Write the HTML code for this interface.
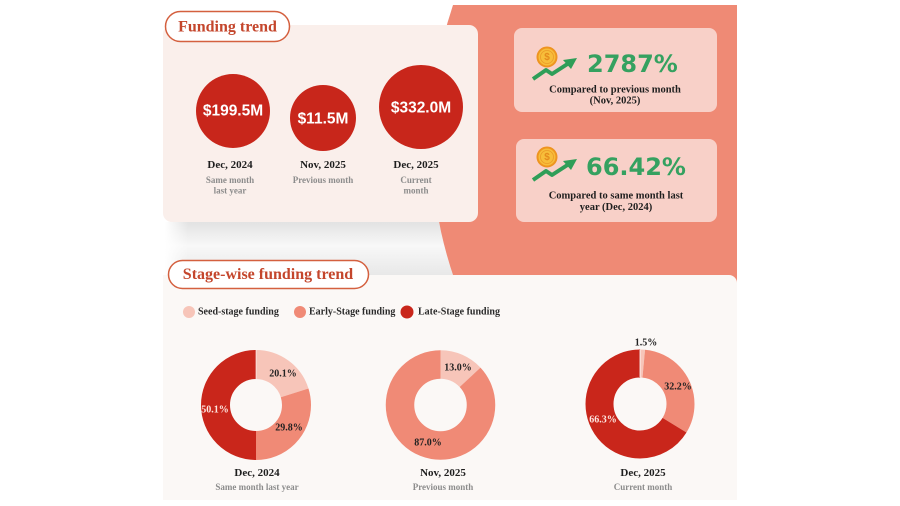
<!DOCTYPE html>
<html><head><meta charset="utf-8"><style>
html,body{margin:0;padding:0;background:#fff;width:900px;height:506px;overflow:hidden;}
svg{display:block;}
.sf{font-family:"Liberation Serif",serif;font-weight:bold;}
.ss{font-family:"Liberation Sans",sans-serif;font-weight:bold;}
.dv{font-family:"DejaVu Sans","Liberation Sans",sans-serif;font-weight:bold;}
</style></head><body>
<svg width="900" height="506" viewBox="0 0 900 506" xmlns="http://www.w3.org/2000/svg">
<defs>
<linearGradient id="sh" x1="0" y1="0" x2="0" y2="1">
<stop offset="0" stop-color="#e2e2e2"/>
<stop offset="0.45" stop-color="#f8f8f8"/>
<stop offset="1" stop-color="#e8e8e8"/>
</linearGradient>
<linearGradient id="shx" x1="0" y1="0" x2="1" y2="0">
<stop offset="0" stop-color="#fff" stop-opacity="1"/>
<stop offset="0.08" stop-color="#fff" stop-opacity="0"/>
<stop offset="1" stop-color="#fff" stop-opacity="0"/>
</linearGradient>
</defs>
<rect width="900" height="506" fill="#fff"/>
<rect x="165" y="222" width="290" height="53" fill="url(#sh)"/>
<rect x="165" y="222" width="290" height="53" fill="url(#shx)"/>
<path d="M453,5 L737,5 L737,305 L464.3,305 A426,426 0 0 1 453,5 Z" fill="#ef8a75"/>
<rect x="163" y="25" width="315" height="197" rx="9" fill="#faefeb"/>
<rect x="165.5" y="11.5" width="124" height="30" rx="15" fill="#fff" stroke="#d4603f" stroke-width="1.5"/>
<text x="227.5" y="27" class="sf" font-size="16" fill="#c4462c" text-anchor="middle" dominant-baseline="central">Funding trend</text>
<circle cx="233" cy="111" r="37" fill="#c8261b"/>
<circle cx="323" cy="118" r="33" fill="#c8261b"/>
<circle cx="421" cy="107" r="42" fill="#c8261b"/>
<text x="233" y="111" class="ss" font-size="15.5" fill="#fff" text-anchor="middle" dominant-baseline="central">$199.5M</text>
<text x="323" y="119" class="ss" font-size="15.5" fill="#fff" text-anchor="middle" dominant-baseline="central">$11.5M</text>
<text x="421" y="108" class="ss" font-size="15.5" fill="#fff" text-anchor="middle" dominant-baseline="central">$332.0M</text>
<g class="sf" font-size="11" fill="#1e1e1e" text-anchor="middle" dominant-baseline="central">
<text x="230" y="165">Dec, 2024</text>
<text x="323" y="165">Nov, 2025</text>
<text x="416" y="165">Dec, 2025</text>
</g>
<g class="sf" font-size="9" fill="#8c8c8c" text-anchor="middle" dominant-baseline="central">
<text x="230" y="180">Same month</text>
<text x="230" y="190.5">last year</text>
<text x="323" y="180">Previous month</text>
<text x="416" y="180">Current</text>
<text x="416" y="190.5">month</text>
</g>
<rect x="514" y="28" width="203" height="84" rx="8" fill="#f8d0c8"/>
<rect x="516" y="139" width="201" height="83" rx="8" fill="#f8d0c8"/>
<g>
<circle cx="547" cy="57" r="9.5" fill="#f7bd3a" stroke="#ee9420" stroke-width="2"/>
<circle cx="547" cy="57" r="6.5" fill="none" stroke="#ec9a28" stroke-width="0.8"/>
<text x="547" y="57.5" class="ss" font-size="10" fill="#e48a1c" text-anchor="middle" dominant-baseline="central">$</text>
<polyline points="533,79 546,70 552,74 569,63" fill="none" stroke="#2f9e58" stroke-width="4" stroke-linejoin="round"/>
<polygon points="577,58 563,60 571,69" fill="#2f9e58"/>
</g>
<g>
<circle cx="547" cy="157" r="9.5" fill="#f7bd3a" stroke="#ee9420" stroke-width="2"/>
<circle cx="547" cy="157" r="6.5" fill="none" stroke="#ec9a28" stroke-width="0.8"/>
<text x="547" y="157.5" class="ss" font-size="10" fill="#e48a1c" text-anchor="middle" dominant-baseline="central">$</text>
<polyline points="533,180 546,171 552,175 569,164" fill="none" stroke="#2f9e58" stroke-width="4" stroke-linejoin="round"/>
<polygon points="577,159 563,161 571,170" fill="#2f9e58"/>
</g>
<text x="587" y="64" class="dv" font-size="24" fill="#35a160" dominant-baseline="central">2787%</text>
<text x="586" y="167" class="dv" font-size="24" fill="#35a160" dominant-baseline="central">66.42%</text>
<g class="sf" font-size="10.5" fill="#1e1e1e" text-anchor="middle" dominant-baseline="central">
<text x="615" y="90">Compared to previous month</text>
<text x="615" y="101">(Nov, 2025)</text>
<text x="616" y="196">Compared to same month last</text>
<text x="616" y="207.5">year (Dec, 2024)</text>
</g>
<path d="M163,275 H729 A8,8 0 0 1 737,283 V500 H163 Z" fill="#fbf8f6"/>
<rect x="168.5" y="260.5" width="200" height="28" rx="14" fill="#fff" stroke="#d4603f" stroke-width="1.5"/>
<text x="268" y="274.5" class="sf" font-size="16" fill="#c4462c" text-anchor="middle" dominant-baseline="central">Stage-wise funding trend</text>
<circle cx="189" cy="312" r="6" fill="#f7c5b9"/>
<circle cx="300" cy="312" r="6" fill="#f08a76"/>
<circle cx="407" cy="312" r="6.5" fill="#c9261b"/>
<g class="sf" font-size="10" fill="#2a2a2a" dominant-baseline="central">
<text x="198" y="312">Seed-stage funding</text>
<text x="309" y="312">Early-Stage funding</text>
<text x="418" y="312">Late-Stage funding</text>
</g>
<g fill="none" stroke-width="29" transform="rotate(-90 256 405)">
<circle cx="256" cy="405" r="40.5" stroke="#f7c5b9" stroke-dasharray="51.15 300"/>
<circle cx="256" cy="405" r="40.5" stroke="#f08a76" stroke-dasharray="75.83 300" stroke-dashoffset="-51.15"/>
<circle cx="256" cy="405" r="40.5" stroke="#c9261b" stroke-dasharray="127.49 300" stroke-dashoffset="-126.98"/>
</g>
<g fill="none" stroke-width="28.5" transform="rotate(-90 440.5 405)">
<circle cx="440.5" cy="405" r="40.5" stroke="#f7c5b9" stroke-dasharray="33.08 300"/>
<circle cx="440.5" cy="405" r="40.5" stroke="#f08a76" stroke-dasharray="221.39 300" stroke-dashoffset="-33.08"/>
</g>
<g fill="none" stroke-width="28" transform="rotate(-90 640 404)">
<circle cx="640" cy="404" r="40.5" stroke="#f7c5b9" stroke-dasharray="3.82 300"/>
<circle cx="640" cy="404" r="40.5" stroke="#f08a76" stroke-dasharray="81.94 300" stroke-dashoffset="-3.82"/>
<circle cx="640" cy="404" r="40.5" stroke="#c9261b" stroke-dasharray="168.71 300" stroke-dashoffset="-85.76"/>
</g>
<line x1="640" y1="350" x2="640" y2="377" stroke="#fff" stroke-width="0.8"/>
<line x1="256" y1="350" x2="256" y2="379" stroke="#fff" stroke-width="0.6"/>
<g class="sf" font-size="10" fill="#222" text-anchor="middle" dominant-baseline="central">
<text x="283" y="374">20.1%</text>
<text x="289" y="428">29.8%</text>
<text x="215" y="410" fill="#fde6e0">50.1%</text>
<text x="458" y="368">13.0%</text>
<text x="428" y="443">87.0%</text>
<text x="646" y="343">1.5%</text>
<text x="678" y="387">32.2%</text>
<text x="603" y="420" fill="#fde6e0">66.3%</text>
</g>
<g class="sf" font-size="11" fill="#1e1e1e" text-anchor="middle" dominant-baseline="central">
<text x="257" y="473">Dec, 2024</text>
<text x="443" y="473">Nov, 2025</text>
<text x="643" y="473">Dec, 2025</text>
</g>
<g class="sf" font-size="9" fill="#8c8c8c" text-anchor="middle" dominant-baseline="central">
<text x="257" y="487">Same month last year</text>
<text x="443" y="487">Previous month</text>
<text x="643" y="487">Current month</text>
</g>
</svg>
</body></html>
